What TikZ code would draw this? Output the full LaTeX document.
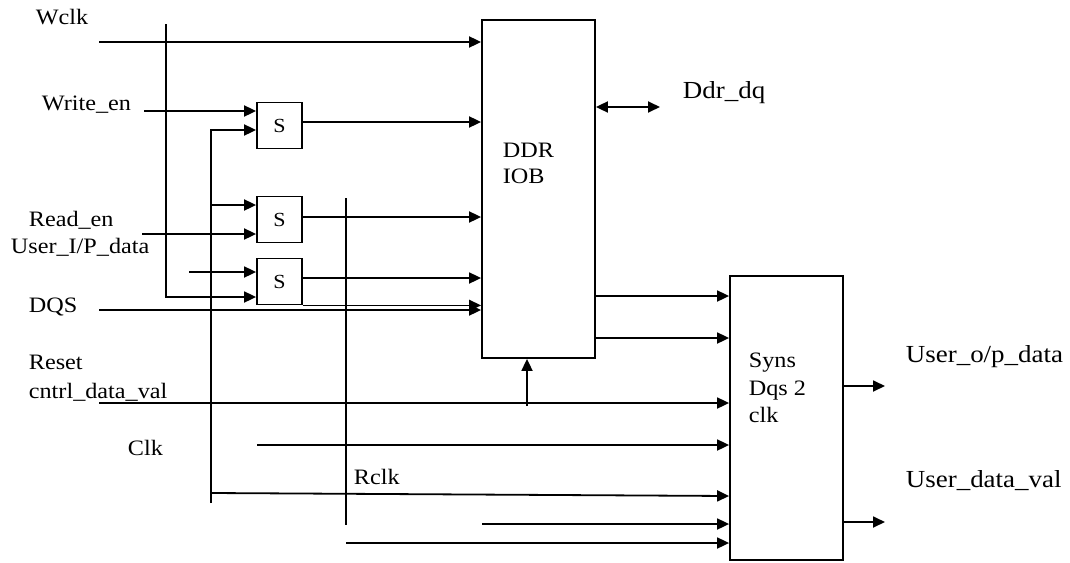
\documentclass[tikz,border=0pt]{standalone}
\usepackage{fontspec}
\setmainfont{Liberation Serif}[FakeStretch=1.1]
\usetikzlibrary{arrows.meta}
\begin{document}
\begin{tikzpicture}[x=1pt,y=-1pt,line width=1.8pt,
  arr/.style={-{Triangle[length=12pt,width=11pt]}},
  barr/.style={{Triangle[length=12pt,width=11pt]}-{Triangle[length=12pt,width=11pt]}},
  lbl/.style={anchor=base west,inner sep=0pt,font=\fontsize{22}{26}\selectfont},
  rlbl/.style={anchor=base west,inner sep=0pt,font=\fontsize{24.5}{28}\selectfont},
  sbox/.style={draw,minimum width=45pt,minimum height=46pt,inner sep=0pt,font=\fontsize{20}{22}\selectfont},
  bigbox/.style={draw,inner sep=0pt}]
\useasboundingbox (0,0) rectangle (1070,562);

% blocks
\node[bigbox,minimum width=113pt,minimum height=338pt] (ddr) at (538.5,189) {};
\node[bigbox,minimum width=113pt,minimum height=284pt] (syns) at (786.5,418) {};
\node[sbox] (s1) at (279.5,125.5) {S};
\node[sbox] (s2) at (279.5,219.5) {S};
\node[sbox] (s3) at (279.5,281.5) {S};

% block texts
\node[lbl] (tddr) at (502,157) {DDR};
\node[lbl] (tiob) at (502,183) {IOB};
\node[lbl] (tsyns) at (748,367) {Syns};
\node[lbl] (tdqs) at (748,395) {Dqs 2};
\node[lbl] (tclk) at (748,422) {clk};

% labels
\node[lbl] (lwclk) at (35,24) {Wclk};
\node[lbl] (lwen) at (41,110) {Write\_en};
\node[lbl] (lren) at (28,226) {Read\_en};
\node[lbl] (luip) at (10,253) {User\_I/P\_data};
\node[lbl] (ldqs) at (28,312) {DQS};
\node[lbl] (lrst) at (28,369) {Reset};
\node[lbl] (lcdv) at (28,398) {cntrl\_data\_val};
\node[lbl] (lclk) at (127,455) {Clk};
\node[lbl] (lrclk) at (353,484) {Rclk};
\node[rlbl] (lddq) at (682,98) {Ddr\_dq};
\node[rlbl] (luop) at (905,362) {User\_o/p\_data};
\node[rlbl] (ludv) at (905,487) {User\_data\_val};

% free ends
\coordinate (cw) at (99,42);
\coordinate (vt) at (166,24);
\coordinate (vb) at (166,297);
\coordinate (cwe) at (144,111);
\coordinate (v2t) at (211,130);
\coordinate (v2m) at (211,205);
\coordinate (v2r) at (211,493);
\coordinate (v2b) at (211,503);
\coordinate (cui) at (142,234);
\coordinate (cs3) at (189,272);
\coordinate (cdqs) at (99,310);
\coordinate (v3t) at (346,198);
\coordinate (v3b) at (346,525);
\coordinate (cddq) at (660,107);
\coordinate (ccdv) at (99,403);
\coordinate (cup) at (527,406);
\coordinate (cclk) at (257,445);
\coordinate (cr1) at (482,524);
\coordinate (cr2) at (346,543);
\coordinate (co1) at (885,386);
\coordinate (co2) at (885,522);

% connectors
\draw[arr] (cw) -- (cw -| ddr.west);
\draw[arr] (vt) -- (vb) -- (vb -| s3.west);
\draw[arr] (cwe) -- (cwe -| s1.west);
\draw[arr] (v2b) -- (v2t) -- (v2t -| s1.west);
\draw[arr] (v2m) -- (v2m -| s2.west);
\draw[arr] (v2r) -- (syns.west |- 0,496);
\draw[arr] (cui) -- (cui -| s2.west);
\draw[arr] (cs3) -- (cs3 -| s3.west);
\draw[arr] (cdqs) -- (cdqs -| ddr.west);
\draw[arr] (s1.east |- 0,122) -- (ddr.west |- 0,122);
\draw[arr] (s2.east |- 0,217) -- (ddr.west |- 0,217);
\draw[arr] (s3.east |- 0,278) -- (ddr.west |- 0,278);
\draw[arr] (s3.south east) -- (ddr.west |- s3.south east);
\draw (v3t) -- (v3b);
\draw[barr] (ddr.east |- cddq) -- (cddq);
\draw[arr] (ddr.east |- 0,296) -- (syns.west |- 0,296);
\draw[arr] (ddr.east |- 0,338) -- (syns.west |- 0,338);
\draw[arr] (ccdv) -- (ccdv -| syns.west);
\draw[arr] (cup) -- (cup |- ddr.south);
\draw[arr] (cclk) -- (cclk -| syns.west);
\draw[arr] (cr1) -- (cr1 -| syns.west);
\draw[arr] (cr2) -- (cr2 -| syns.west);
\draw[arr] (syns.east |- co1) -- (co1);
\draw[arr] (syns.east |- co2) -- (co2);
\end{tikzpicture}
\end{document}
